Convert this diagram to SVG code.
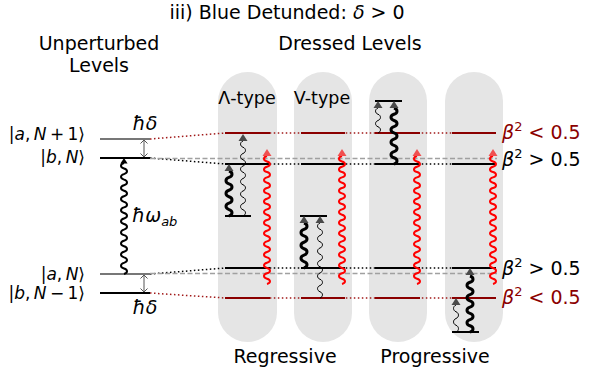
<svg xmlns="http://www.w3.org/2000/svg" xmlns:xlink="http://www.w3.org/1999/xlink" width="593" height="374" viewBox="0 0 593 374">
<style>
text{font-family:"DejaVu Sans","Liberation Sans",sans-serif;fill:#000}
.i{font-style:italic}
.pill{fill:#e5e5e5}
.lvk{stroke:#000;stroke-width:1.8;fill:none}
.lvr{stroke:#8b0000;stroke-width:1.8;fill:none}
.lvg{stroke:#777;stroke-width:1.8;fill:none}
.dotk{stroke:#000;stroke-width:1.5;stroke-dasharray:1.5 2.5;fill:none}
.dotr{stroke:#a01818;stroke-width:1.5;stroke-dasharray:1.5 2.5;fill:none}
.dash{stroke:#a0a0a0;stroke-width:1.5;stroke-dasharray:5 2.5;fill:none}
.thick{stroke:#000;stroke-width:3;fill:none}
.thin{stroke:#000;stroke-width:1;fill:none}
.red{stroke:#f00;stroke-width:2;fill:none}
.hg{fill:#4a4a4a}
.hr{fill:#f05050}
.dbl{stroke:#555;stroke-width:1;fill:none}
.ket{font-size:17px}
</style>
<defs>
<path id="wl" d="M0 0c4-1.11 4-4.44 0-5.55s-4-4.44 0-5.55s4-4.44 0-5.55s-4-4.44 0-5.55s4-4.44 0-5.55s-4-4.44 0-5.55s4-4.44 0-5.55s-4-4.44 0-5.55s4-4.44 0-5.55s-4-4.44 0-5.55s4-4.44 0-5.55s-4-4.44 0-5.55s4-4.44 0-5.55s-4-4.44 0-5.55s4-4.44 0-5.55s-4-4.44 0-5.55s4-4.44 0-5.55s-4-4.44 0-5.55s4-4.44 0-5.55s-4-4.44 0-5.55"/>
<path id="wr" d="M0 0c4-1.07 4-4.27 0-5.33s-4-4.27 0-5.33s4-4.27 0-5.33s-4-4.27 0-5.33s4-4.27 0-5.33s-4-4.27 0-5.33s4-4.27 0-5.33s-4-4.27 0-5.33s4-4.27 0-5.33s-4-4.27 0-5.33s4-4.27 0-5.33s-4-4.27 0-5.33s4-4.27 0-5.33s-4-4.27 0-5.33s4-4.27 0-5.33s-4-4.27 0-5.33s4-4.27 0-5.33s-4-4.27 0-5.33s4-4.27 0-5.33s-4-4.27 0-5.33s4-4.27 0-5.33s-4-4.27 0-5.33s4-4.27 0-5.33s-4-4.27 0-5.33"/>
<path id="k45" d="M0 0c4-1.29 4-5.14 0-6.43s-4-5.14 0-6.43s4-5.14 0-6.43s-4-5.14 0-6.43s4-5.14 0-6.43s-4-5.14 0-6.43s4-5.14 0-6.43"/>
<path id="k56" d="M0 0c4-1.24 4-4.98 0-6.22s-4-4.98 0-6.22s4-4.98 0-6.22s-4-4.98 0-6.22s4-4.98 0-6.22s-4-4.98 0-6.22s4-4.98 0-6.22s-4-4.98 0-6.22s4-4.98 0-6.22"/>
<path id="t75" d="M0 0c3.3-1.25 3.3-5 0-6.25s-3.3-5 0-6.25s3.3-5 0-6.25s-3.3-5 0-6.25s3.3-5 0-6.25s-3.3-5 0-6.25s3.3-5 0-6.25s-3.3-5 0-6.25s3.3-5 0-6.25s-3.3-5 0-6.25s3.3-5 0-6.25s-3.3-5 0-6.25"/>
<path id="t25" d="M0 0c3.3-1.25 3.3-5 0-6.25s-3.3-5 0-6.25s3.3-5 0-6.25s-3.3-5 0-6.25"/>
<path id="t27" d="M0 0c3.3-1.35 3.3-5.4 0-6.75s-3.3-5.4 0-6.75s3.3-5.4 0-6.75s-3.3-5.4 0-6.75"/>
<polygon id="hd" points="0,0 -4.5,7 4.5,7"/>
</defs>

<text x="287" y="19" font-size="19" text-anchor="middle">iii) Blue Detunded: <tspan class="i">δ</tspan> &gt; 0</text>
<text x="99" y="50" font-size="19" text-anchor="middle">Unperturbed</text>
<text x="99" y="72" font-size="19" text-anchor="middle">Levels</text>
<text x="350" y="50" font-size="19" text-anchor="middle">Dressed Levels</text>

<g id="pill1"><rect class="pill" x="218" y="72" width="59" height="270" rx="29.5"/><text x="247" y="104" font-size="17.5" text-anchor="middle">Λ-type</text></g>
<g id="pill2"><rect class="pill" x="294" y="72" width="58" height="270" rx="29"/><text x="322" y="104" font-size="17.5" text-anchor="middle">V-type</text></g>
<g id="pill3"><rect class="pill" x="369" y="72" width="58" height="270" rx="29"/></g>
<g id="pill4"><rect class="pill" x="445" y="72" width="58" height="270" rx="29"/></g>

<g id="connectors">
<path class="dotr" d="M150 139L225 133H496"/>
<path class="dotk" d="M150 158L225 164H496"/>
<path class="dotk" d="M150 274L225 268H496"/>
<path class="dotr" d="M150 293L225 298H496"/>
<path class="dash" d="M150 158.5H497M150 273.5H497"/>
</g>

<g id="unperturbed">
<path class="lvg" d="M100 139H150M100 274H150"/>
<path class="lvk" d="M100 158H150M100 293H150"/>
<text class="ket" x="85" y="139.5" text-anchor="end">|<tspan class="i">a</tspan>,&#8201;<tspan class="i">N</tspan>&#8201;+&#8201;1⟩</text>
<text class="ket" x="85" y="163" text-anchor="end">|<tspan class="i">b</tspan>,&#8201;<tspan class="i">N</tspan>⟩</text>
<text class="ket" x="85" y="280" text-anchor="end">|<tspan class="i">a</tspan>,&#8201;<tspan class="i">N</tspan>⟩</text>
<text class="ket" x="85" y="299" text-anchor="end">|<tspan class="i">b</tspan>,&#8201;<tspan class="i">N</tspan>&#8201;−&#8201;1⟩</text>
<path class="dbl" d="M144 140V157M140.5 143.5L144 140L147.5 143.5M140.5 153.5L144 157L147.5 153.5M144 275V292M140.5 278.5L144 275L147.5 278.5M140.5 288.5L144 292L147.5 288.5"/>
<text x="145" y="130" font-size="19" text-anchor="middle" class="i">ħδ</text>
<text x="145" y="314" font-size="19" text-anchor="middle" class="i">ħδ</text>
<use xlink:href="#wl" fill="none" stroke="#000" stroke-width="2" transform="translate(124,274)"/>
<use xlink:href="#hd" fill="#000" transform="translate(124,158) scale(0.8)"/>
<text x="132" y="222" font-size="19"><tspan class="i">ħω</tspan><tspan class="i" font-size="13" dy="4">ab</tspan></text>
</g>

<g id="levels">
<path class="lvr" d="M225 133H270M301 133H345M375 133H420M452 133H496M225 298H270M301 298H345M375 298H420M452 298H496"/>
<path class="lvk" d="M225 164H270M301 164H345M375 164H420M452 164H496M225 268H270M301 268H345M375 268H420M452 268H496"/>
<path class="lvk" d="M225 216H251M300 216H327M375 101H402M452 332H479"/>
</g>

<g id="transitions">
<use xlink:href="#k45" class="thick" transform="translate(229,216)"/>
<use xlink:href="#t75" class="thin" transform="translate(243,216)"/>
<use xlink:href="#k45" class="thick" transform="translate(304,268)"/>
<use xlink:href="#t75" class="thin" transform="translate(320,298)"/>
<use xlink:href="#t25" class="thin" transform="translate(378,133)"/>
<use xlink:href="#k56" class="thick" transform="translate(394,164)"/>
<use xlink:href="#t27" class="thin" transform="translate(456,332)"/>
<use xlink:href="#k56" class="thick" transform="translate(470,332)"/>
<use xlink:href="#wr" class="red" transform="translate(267,284)"/>
<use xlink:href="#wr" class="red" transform="translate(342,284)"/>
<use xlink:href="#wr" class="red" transform="translate(417,284)"/>
<use xlink:href="#wr" class="red" transform="translate(493,284)"/>
<use xlink:href="#hd" class="hg" x="229" y="164"/>
<use xlink:href="#hd" class="hg" x="243" y="134"/>
<use xlink:href="#hd" class="hg" x="304" y="216"/>
<use xlink:href="#hd" class="hg" x="320" y="216"/>
<use xlink:href="#hd" class="hg" x="378" y="101"/>
<use xlink:href="#hd" class="hg" x="394" y="101"/>
<use xlink:href="#hd" class="hg" x="456" y="298"/>
<use xlink:href="#hd" class="hg" x="470" y="268"/>
<use xlink:href="#hd" class="hr" x="267" y="149"/>
<use xlink:href="#hd" class="hr" x="342" y="149"/>
<use xlink:href="#hd" class="hr" x="417" y="149"/>
<use xlink:href="#hd" class="hr" x="493" y="149"/>
</g>

<g id="beta-labels">
<text x="502" y="139" font-size="19" style="fill:#8b0000"><tspan class="i">β</tspan><tspan font-size="13" dy="-8">2</tspan><tspan dy="8"> &lt; 0.5</tspan></text>
<text x="502" y="166" font-size="19"><tspan class="i">β</tspan><tspan font-size="13" dy="-8">2</tspan><tspan dy="8"> &gt; 0.5</tspan></text>
<text x="502" y="275" font-size="19"><tspan class="i">β</tspan><tspan font-size="13" dy="-8">2</tspan><tspan dy="8"> &gt; 0.5</tspan></text>
<text x="502" y="304" font-size="19" style="fill:#8b0000"><tspan class="i">β</tspan><tspan font-size="13" dy="-8">2</tspan><tspan dy="8"> &lt; 0.5</tspan></text>
</g>

<text x="285" y="363" font-size="19" text-anchor="middle">Regressive</text>
<text x="435" y="363" font-size="19" text-anchor="middle">Progressive</text>
</svg>
